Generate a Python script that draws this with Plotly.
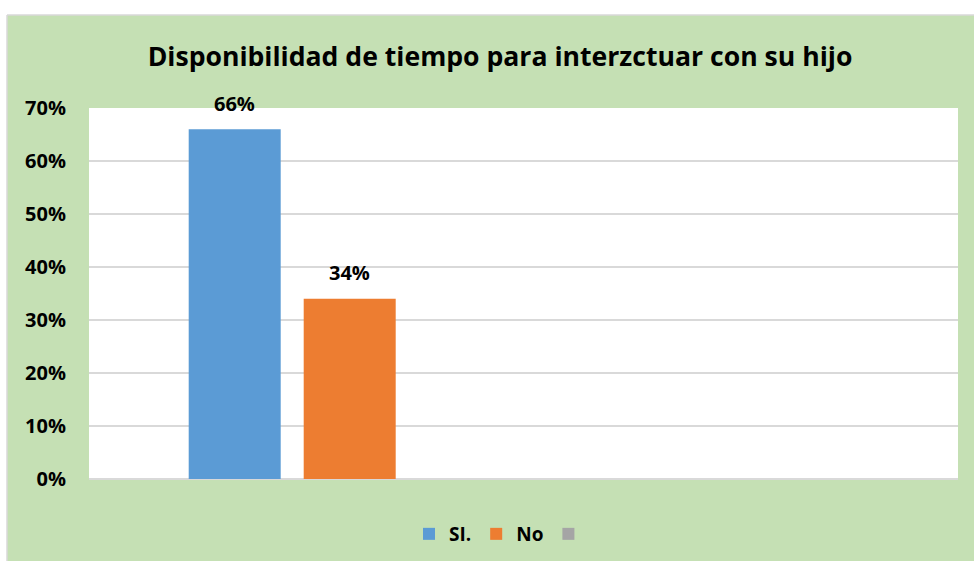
import plotly.graph_objects as go

# ---- data ----
category = ["Disponibilidad"]
series_names = ["SI.", "No", " "]
series_values = [[0.66], [0.34], [None]]
series_colors = ["#5B9BD5", "#ED7D31", "#A5A5A5"]
y_tickvals = [0, 0.1, 0.2, 0.3, 0.4, 0.5, 0.6, 0.7]
y_ticktext = ["0%", "10%", "20%", "30%", "40%", "50%", "60%", "70%"]
title_text = "Disponibilidad de tiempo para interzctuar con su hijo"

W, H = 974, 561
L, R, T, B = 89, 958, 108, 479  # plot area in px
XRANGE = [-0.6, 1.4]
BARGAP = 0.206
GROUPGAP = 0.2


def xp(px):
    return (px - L) / (R - L)


def yp(py):
    return (B - py) / (B - T)


FONT = "Open Sans, Lato, sans-serif"
GREEN = "#C5E0B4"

fig = go.Figure()
for name, vals, col in zip(series_names, series_values, series_colors):
    fig.add_trace(go.Bar(
        x=category, y=vals, name=name,
        marker=dict(color=col, line=dict(width=0)),
    ))

# data labels placed above each bar of the group
unit_px = (R - L) / (XRANGE[1] - XRANGE[0])
slot_px = (1 - BARGAP) * unit_px / len(series_names)
annotations = []
for i, vals in enumerate(series_values):
    for c, v in zip(category, vals):
        if v is None:
            continue
        annotations.append(dict(
            x=c, y=v, xref="x", yref="y", text=f"<b>{round(v*100)}%</b>",
            showarrow=False, xanchor="center", yanchor="middle",
            xshift=(i - (len(series_names) - 1) / 2) * slot_px, yshift=26,
            font=dict(family=FONT, size=20, color="#000000"),
        ))

fig.update_layout(
    width=W, height=H,
    margin=dict(l=L, r=W - R, t=T, b=H - B, pad=0, autoexpand=False),
    paper_bgcolor=GREEN,
    plot_bgcolor="#FFFFFF",
    barmode="group",
    bargap=BARGAP,
    bargroupgap=GROUPGAP,
    title=dict(text=f"<b>{title_text}</b>", x=500 / W, xref="container",
               xanchor="center", y=1 - 57 / H, yanchor="middle",
               font=dict(family=FONT, size=26.6, color="#000000")),
    xaxis=dict(type="category", range=XRANGE, showticklabels=False,
               showgrid=False, zeroline=False, showline=False, ticks=""),
    yaxis=dict(range=[0, 0.7], tickvals=y_tickvals, ticktext=y_ticktext,
               showgrid=True, gridcolor="#D9D9D9", gridwidth=1.5,
               zeroline=True, zerolinecolor="#D9D9D9", zerolinewidth=1.5,
               showline=False, ticks="", ticklabelstandoff=22,
               tickfont=dict(family=FONT, size=20, color="#000000", weight="bold")),
    legend=dict(orientation="h", x=xp(504), xanchor="center",
                y=yp(534), yanchor="middle", bgcolor="rgba(0,0,0,0)",
                font=dict(family=FONT, size=19, color="#000000", weight="bold"),
                itemwidth=30, traceorder="normal"),
    showlegend=True,
    annotations=annotations,
    shapes=[
        dict(type="rect", xref="paper", yref="paper", x0=xp(0), x1=xp(W),
             y0=yp(15), y1=yp(0), fillcolor="#FFFFFF", line=dict(width=0), layer="above"),
        dict(type="rect", xref="paper", yref="paper", x0=xp(0), x1=xp(7),
             y0=yp(H), y1=yp(0), fillcolor="#FFFFFF", line=dict(width=0), layer="above"),
        dict(type="line", xref="paper", yref="paper", x0=xp(7), x1=xp(W),
             y0=yp(15), y1=yp(15), line=dict(color="#D9D9D9", width=1.5), layer="above"),
        dict(type="line", xref="paper", yref="paper", x0=xp(7), x1=xp(7),
             y0=yp(15), y1=yp(H), line=dict(color="#D9D9D9", width=1.5), layer="above"),
    ],
)

fig.write_html("out.html", config={"displayModeBar": False},
               post_script="document.body.style.margin='0px';")
